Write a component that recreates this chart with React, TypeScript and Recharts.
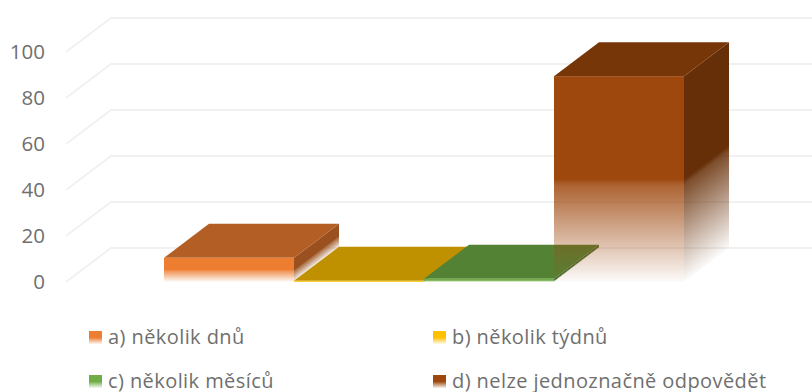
import { BarChart, Bar, XAxis, YAxis, CartesianGrid, Legend } from 'recharts';

const CATEGORIES = ['odpovědi'];
const SERIES_NAMES = ['a) několik dnů', 'b) několik týdnů', 'c) několik měsíců', 'd) nelze jednoznačně odpovědět'];
const SERIES_VALUES = [10.5, 0.5, 1.4, 89.5];
const Y_TICKS = [0, 20, 40, 60, 80, 100];

const FRONT_COLORS = ['#ED7D31', '#FFC000', '#70AD47', '#9E480E'];
const TOP_COLORS = ['#B25E25', '#BF9000', '#548235', '#763608'];
const SIDE_COLORS = ['#9A511F', '#9A7400', '#446A2C', '#672F08'];

const KEYS = ['a', 'b', 'c', 'd'];
const DEPTH_X = 45;
const DEPTH_Y = 34;
const FONT = '"Open Sans", sans-serif';
const TEXT_COLOR = '#6f6f6f';

const chartData = CATEGORIES.map((name) => {
  const row: Record<string, string | number> = { name };
  KEYS.forEach((key, i) => { row[key] = SERIES_VALUES[i]; });
  return row;
});

const fadeStops = (color: string) => (
  <>
    <stop offset="0%" stopColor={color} stopOpacity={1} />
    <stop offset="50%" stopColor={color} stopOpacity={1} />
    <stop offset="53%" stopColor={color} stopOpacity={0.85} />
    <stop offset="100%" stopColor={color} stopOpacity={0.02} />
  </>
);

// Box with front, top and right faces; Recharts supplies the front rectangle
const box3d = (index: number) => (props: any) => {
  const { x, y, width, height } = props;
  const right = x + width;
  const topFace = `${x},${y} ${x + DEPTH_X},${y - DEPTH_Y} ${right + DEPTH_X},${y - DEPTH_Y} ${right},${y}`;
  const skew = `matrix(1,${-DEPTH_Y / DEPTH_X},0,1,${right},${y})`;
  return (
    <g>
      <rect x={0} y={0} width={DEPTH_X} height={height} transform={skew} fill={`url(#side-${index})`} />
      <polygon points={topFace} fill={TOP_COLORS[index]} />
      <rect x={x} y={y} width={width} height={height} fill={`url(#front-${index})`} />
    </g>
  );
};

// Grid line runs along the side wall, then across the back wall
const wallLine = (props: any) => {
  const { x1, y1, key } = props;
  const d = `M${x1},${y1} L${x1 + DEPTH_X},${y1 - DEPTH_Y} L812,${y1 - DEPTH_Y}`;
  return <path key={key} d={d} fill="none" stroke="#F1F1F1" strokeWidth={2} />;
};

const LegendGrid = ({ payload }: any) => (
  <div style={{ position: 'relative', width: 812, height: 72, fontFamily: FONT, fontSize: 20, letterSpacing: 0.42, color: TEXT_COLOR }}>
    {(payload ?? []).map((entry: any, i: number) => (
      <div
        key={entry.value}
        style={{
          position: 'absolute',
          left: i % 2 === 0 ? 89 : 433,
          top: i < 2 ? 0 : 44,
          display: 'flex',
          alignItems: 'center',
          whiteSpace: 'nowrap',
          lineHeight: '30px',
        }}
      >
        <span
          style={{
            display: 'inline-block',
            width: 13,
            height: 13,
            marginRight: 6,
            background: `linear-gradient(${entry.color} 50%, ${entry.color}11 100%)`,
          }}
        />
        {entry.value}
      </div>
    ))}
  </div>
);

export default function App() {
  return (
    <div style={{ position: 'fixed', left: 0, top: 0, width: 812, height: 392, overflow: 'hidden', background: '#fff' }}>
      <BarChart
        width={812}
        height={392}
        data={chartData}
        margin={{ top: 52, right: 31, bottom: 110, left: 0 }}
        barSize={130}
        barGap={0}
      >
        <defs>
          {FRONT_COLORS.map((color, i) => (
            <linearGradient key={color} id={`front-${i}`} x1="0" y1="0" x2="0" y2="1">
              {fadeStops(color)}
            </linearGradient>
          ))}
          {SIDE_COLORS.map((color, i) => (
            <linearGradient key={color} id={`side-${i}`} x1="0" y1="0" x2="0" y2="1">
              {fadeStops(color)}
            </linearGradient>
          ))}
        </defs>
        <CartesianGrid vertical={false} horizontal={wallLine} />
        <XAxis dataKey="name" hide />
        <YAxis
          width={66}
          domain={[0, 100]}
          ticks={Y_TICKS}
          axisLine={false}
          tickLine={false}
          tickSize={0}
          tickMargin={21}
          tick={{ fill: TEXT_COLOR, fontSize: 20.5, fontFamily: FONT }}
        />
        <Legend
          layout="horizontal"
          align="center"
          verticalAlign="middle"
          wrapperStyle={{ left: 0, top: 322, width: 812 }}
          content={<LegendGrid />}
        />
        {KEYS.map((key, i) => (
          <Bar
            key={key}
            dataKey={key}
            name={SERIES_NAMES[i]}
            fill={FRONT_COLORS[i]}
            isAnimationActive={false}
            shape={box3d(i)}
          />
        ))}
      </BarChart>
    </div>
  );
}
